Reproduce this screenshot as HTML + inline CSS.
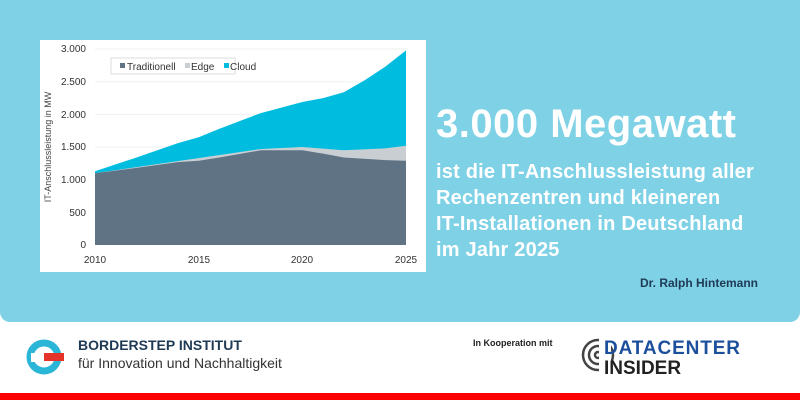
<!DOCTYPE html>
<html><head><meta charset="utf-8"><style>
body{margin:0;width:800px;height:400px;overflow:hidden;background:#fff;font-family:"Liberation Sans",sans-serif;position:relative}
.top{position:absolute;left:0;top:0;width:800px;height:322px;background:#7fd1e6;border-radius:0 0 10px 10px}
.panel{position:absolute;left:40px;top:40px;width:386px;height:232px;background:#fff}
.h{position:absolute;left:436px;top:102px;color:#fff;font-weight:bold;font-size:40px;letter-spacing:0.5px}
.sub{position:absolute;left:436px;top:159px;color:#fff;font-weight:bold;font-size:20px;line-height:26px;letter-spacing:0.2px}
.auth{position:absolute;right:42px;top:276px;color:#1f3a55;font-weight:bold;font-size:12px}
.red{position:absolute;left:0;top:393px;width:800px;height:7px;background:#f00}
</style></head><body>
<div class="top"></div>
<div class="panel"></div>
<svg style="position:absolute;left:0;top:0" width="800" height="400">
<g stroke="#eef0f2" stroke-width="1">
<line x1="95" x2="406" y1="49" y2="49"/><line x1="95" x2="406" y1="81.7" y2="81.7"/><line x1="95" x2="406" y1="114.4" y2="114.4"/><line x1="95" x2="406" y1="147" y2="147"/><line x1="95" x2="406" y1="179.7" y2="179.7"/><line x1="95" x2="406" y1="212.3" y2="212.3"/>
</g>
<path fill="#00bde0" d="M95,245 L95,171.2 136.5,157.5 177.9,143.1 198.7,137.3 219.4,128.8 260.8,113.1 302.3,102 323,98.1 343.8,92.2 364.5,80.4 385.2,66.7 406,50.4 L406,245Z"/>
<path fill="#c9ced3" d="M95,245 L95,173.2 260.8,149 302.3,147 343.8,150.3 385.2,148.4 406,145.7 L406,245Z"/>
<path fill="#5f7385" d="M95,245 L95,173.2 136.5,167.9 177.9,162.1 198.7,160.8 219.4,157.5 260.8,150.3 302.3,150.3 323,153.6 343.8,157.5 385.2,160.1 406,160.8 L406,245Z"/>
<g font-size="10" fill="#333" text-anchor="end">
<text x="86" y="52">3.000</text><text x="86" y="85">2.500</text><text x="86" y="118">2.000</text><text x="86" y="150">1.500</text><text x="86" y="183">1.000</text><text x="86" y="216">500</text><text x="86" y="248">0</text>
</g>
<g font-size="10" fill="#333" text-anchor="middle">
<text x="95" y="263">2010</text><text x="199" y="263">2015</text><text x="302" y="263">2020</text><text x="406" y="263">2025</text>
</g>
<text font-size="9" fill="#444" transform="translate(51,147) rotate(-90)" text-anchor="middle">IT-Anschlussleistung in MW</text>
<rect x="111" y="58" width="124" height="16" fill="#fff" stroke="#ddd"/>
<rect x="120" y="63" width="5" height="5" fill="#5f7385"/><text x="127" y="70" font-size="10" fill="#333">Traditionell</text>
<rect x="185" y="63" width="5" height="5" fill="#c9ced3"/><text x="191" y="70" font-size="10" fill="#333">Edge</text>
<rect x="224" y="63" width="5" height="5" fill="#00bde0"/><text x="230" y="70" font-size="10" fill="#333">Cloud</text>
<circle cx="44" cy="357" r="14" fill="none" stroke="#2bb6d8" stroke-width="7"/>
<rect x="31" y="353" width="15" height="9" fill="#fff"/>
<rect x="44" y="353" width="20" height="8" fill="#e5332a"/>
<text x="78" y="350" font-size="14" font-weight="bold" fill="#1f3a55">BORDERSTEP INSTITUT</text>
<text x="78" y="368" font-size="14" fill="#333">für Innovation und Nachhaltigkeit</text>
<text x="473" y="346" font-size="9" font-weight="bold" fill="#222">In Kooperation mit</text>
<g fill="none" stroke="#444" stroke-width="2.5"><circle cx="598" cy="355" r="15"/><circle cx="598" cy="355" r="9"/><circle cx="598" cy="355" r="3"/></g>
<rect x="599" y="338" width="12" height="34" fill="#fff"/>
<text x="604" y="354" font-size="19" font-weight="bold" fill="#1c4f9c" textLength="136">DATACENTER</text>
<text x="604" y="374" font-size="19" font-weight="bold" fill="#222">INSIDER</text>
</svg>
<div class="h">3.000 Megawatt</div>
<div class="sub">ist die IT-Anschlussleistung aller<br>Rechenzentren und kleineren<br>IT-Installationen in Deutschland<br>im Jahr 2025</div>
<div class="auth">Dr. Ralph Hintemann</div>
<div class="red"></div>
</body></html>
